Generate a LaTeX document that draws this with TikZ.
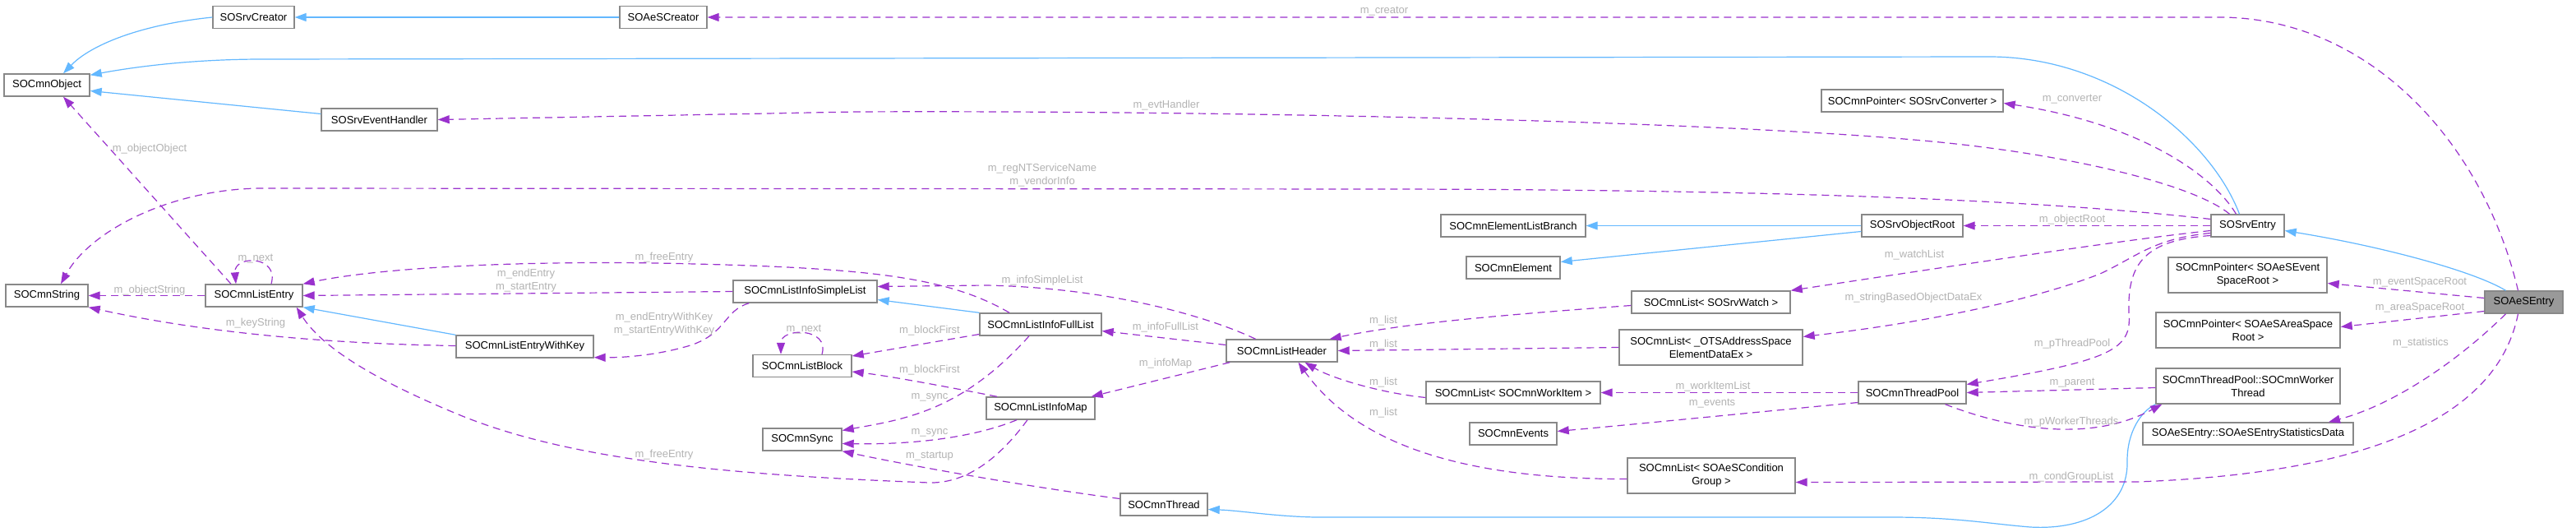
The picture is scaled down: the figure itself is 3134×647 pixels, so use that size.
\documentclass[tikz,border=0pt]{standalone}
\usepackage{fontspec}
\setmainfont{Liberation Sans}
\usetikzlibrary{arrows.meta}
\definecolor{inhblue}{HTML}{63B8FF}
\definecolor{memviolet}{HTML}{9A32CD}
\definecolor{boxline}{HTML}{888888}
\definecolor{rootfill}{HTML}{999999}
\definecolor{lblgray}{HTML}{B3B3B3}

\begin{document}
\begin{tikzpicture}[x=1pt,y=-1pt,font=\fontsize{13}{16}\selectfont,
cls/.style={draw=boxline,fill=white,line width=1.4pt,minimum width=#1,minimum height=27pt,inner sep=0pt,align=center},
tall/.style={minimum height=43pt},
inh/.style={-{Triangle[length=14pt,width=10pt]},line width=1.2pt,draw=inhblue},
mem/.style={-{Triangle[length=14pt,width=10pt]},line width=1.2pt,draw=memviolet,dash pattern=on 9pt off 6pt},
lbl/.style={text=lblgray,inner sep=0pt,align=center}]
\path[use as bounding box,fill=white] (0,0) rectangle (3134,647);
\node[cls=99pt] (srvcreator) at (308.5,21) {SOSrvCreator};
\node[cls=106pt] (aescreator) at (807,21) {SOAeSCreator};
\node[cls=104pt] (cmnobject) at (57,103.5) {SOCmnObject};
\node[cls=141pt] (evthandler) at (461.5,145.5) {SOSrvEventHandler};
\node[cls=221pt] (convptr) at (2326.5,122.5) {SOCmnPointer< SOSrvConverter >};
\node[cls=176pt] (listbranch) at (1841,274.5) {SOCmnElementListBranch};
\node[cls=114pt] (element) at (1841,325.5) {SOCmnElement};
\node[cls=123pt] (objroot) at (2326.5,274.5) {SOSrvObjectRoot};
\node[cls=89pt] (srventry) at (2734.5,274.5) {SOSrvEntry};
\node[cls=193pt,tall] (evspaceptr) at (2734.5,334.5) {SOCmnPointer< SOAeSEvent\\SpaceRoot >};
\node[cls=95pt,fill=rootfill] (aesentry) at (3070.5,367.5) {SOAeSEntry};
\node[cls=224pt,tall] (areaptr) at (2735,401.5) {SOCmnPointer< SOAeSAreaSpace\\Root >};
\node[cls=224pt,tall] (worker) at (2735,469.5) {SOCmnThreadPool::SOCmnWorker\\Thread};
\node[cls=256pt] (stats) at (2735,527.5) {SOAeSEntry::SOAeSEntryStatisticsData};
\node[cls=100pt] (cmnstring) at (57,359.5) {SOCmnString};
\node[cls=118pt] (listentry) at (309,359.5) {SOCmnListEntry};
\node[cls=167pt] (entrykey) at (638.5,421.5) {SOCmnListEntryWithKey};
\node[cls=175pt] (simplelist) at (979.5,354.5) {SOCmnListInfoSimpleList};
\node[cls=120pt] (listblock) at (976,445) {SOCmnListBlock};
\node[cls=96pt] (sync) at (976,534.5) {SOCmnSync};
\node[cls=148pt] (fulllist) at (1266,394.5) {SOCmnListInfoFullList};
\node[cls=132pt] (infomap) at (1266,496.5) {SOCmnListInfoMap};
\node[cls=106pt] (thread) at (1416,613.5) {SOCmnThread};
\node[cls=135pt] (listheader) at (1559.5,426.5) {SOCmnListHeader};
\node[cls=193pt] (watchlist) at (2081.5,367.5) {SOCmnList< SOSrvWatch >};
\node[cls=223pt,tall] (otslist) at (2081.5,422.5) {SOCmnList< \_OTSAddressSpace\\ElementDataEx >};
\node[cls=212pt] (worklist) at (1841,477.5) {SOCmnList< SOCmnWorkItem >};
\node[cls=106pt] (events) at (1841,527.5) {SOCmnEvents};
\node[cls=204pt,tall] (condlist) at (2082,578.5) {SOCmnList< SOAeSCondition\\Group >};
\node[cls=131pt] (threadpool) at (2326.5,477.5) {SOCmnThreadPool};

\draw[inh] (aescreator) -- (srvcreator);
\draw[inh] (srvcreator.west) .. controls (170,30) and (110,55) .. ([xshift=20pt]cmnobject.north);
\draw[inh] ([xshift=-10pt]srventry.north) .. controls (2690,170) and (2570,69) .. (2420,69) -- (320,72) .. controls (230,72) and (160,82) .. ([yshift=-2pt]cmnobject.north east);
\draw[inh] ([yshift=7pt]evthandler.west) -- ([yshift=-7pt]cmnobject.east);
\draw[inh] (objroot) -- (listbranch);
\draw[inh] ([yshift=-7pt]objroot.west) -- ([yshift=7pt]element.east);
\draw[inh] ([xshift=-22pt]aesentry.north) .. controls (3010,330) and (2900,300) .. ([yshift=-6pt]srventry.east);
\draw[inh] (entrykey.north west) -- (listentry.south east);
\draw[inh] (fulllist.north west) -- ([yshift=-10pt]simplelist.east);
\draw[inh] (worker.south west) .. controls (2605,500) and (2588,525) .. (2588,560) .. controls (2590,615) and (2540,645) .. (2470,641) .. controls (2420,637) and (2380,629) .. (2300,629) -- (1600,629) .. controls (1550,628) and (1510,621) .. ([yshift=-6pt]thread.east);

\draw[mem] ([xshift=-7pt]aesentry.north) .. controls (3020,170) and (2880,21) .. (2700,21) -- (aescreator.east) node[lbl] (creatorlbl) at (1684,14) {m\_creator};
\draw[mem] ([xshift=-22pt]srventry.north) .. controls (2670,225) and (2520,188) .. (2350,172) .. controls (2100,148) and (1500,134) .. (1040,136) -- (evthandler.east) node[lbl] (evthandlerlbl) at (1419,128) {m\_evtHandler};
\draw[mem] ([yshift=8pt]srventry.west) .. controls (2500,245) and (2200,231) .. (1700,230) -- (320,229) .. controls (210,229) and (110,280) .. ([xshift=17pt]cmnstring.north) node[lbl] (servicelbl) at (1268,213) {m\_regNTServiceName\\m\_vendorInfo};
\draw[mem] ([xshift=-14pt]srventry.north) .. controls (2690,210) and (2600,150) .. ([yshift=-3pt]convptr.east) node[lbl] (converterlbl) at (2521,121) {m\_converter};
\draw[mem] (srventry) -- (objroot) node[lbl] (objrootlbl) at (2521,267) {m\_objectRoot};
\draw[mem] ([yshift=-6pt]srventry.west) .. controls (2600,290) and (2450,312) .. (watchlist.north east) node[lbl] (watchlbl) at (2329,310) {m\_watchList};
\draw[mem] ([yshift=-9pt]srventry.west) .. controls (2620,290) and (2600,312) .. (2555,333) .. controls (2460,370) and (2320,395) .. ([yshift=13pt]otslist.east) node[lbl] (stringlbl) at (2328,362) {m\_stringBasedObjectDataEx};
\draw[mem] ([yshift=-12pt]srventry.west) .. controls (2610,292) and (2588,320) .. (2590,380) .. controls (2594,425) and (2570,438) .. ([yshift=10pt]threadpool.east) node[lbl] (poollbl) at (2521,418) {m\_pThreadPool};
\draw[mem] ([yshift=-2pt]worker.west) -- (threadpool.east) node[lbl] (parentlbl) at (2521,466) {m\_parent};
\draw[mem] ([xshift=40pt]threadpool.south) .. controls (2440,520) and (2540,540) .. ([xshift=8pt]worker.south west) node[lbl] (workerslbl) at (2520,513) {m\_pWorkerThreads};
\draw[mem] ([yshift=5pt]aesentry.west) -- ([yshift=-10pt]evspaceptr.east) node[lbl] (eventlbl) at (2944,343) {m\_eventSpaceRoot};
\draw[mem] ([yshift=-11pt]aesentry.west) -- ([yshift=4pt]areaptr.east) node[lbl] (arealbl) at (2944,374) {m\_areaSpaceRoot};
\draw[mem] ([xshift=-22pt]aesentry.south) .. controls (3000,430) and (2920,490) .. ([xshift=98pt]stats.north) node[lbl] (statslbl) at (2945,417) {m\_statistics};
\draw[mem] ([xshift=-7pt]aesentry.south) .. controls (3040,500) and (2900,575) .. (2600,586) -- ([yshift=-8pt]condlist.east) node[lbl] (condlbl) at (2520,580) {m\_condGroupList};
\draw[mem] (threadpool) -- (worklist) node[lbl] (worklbl) at (2084,470) {m\_workItemList};
\draw[mem] ([yshift=-12pt]threadpool.west) .. controls (2150,500) and (2000,515) .. ([yshift=3pt]events.east) node[lbl] (eventslbl) at (2083,491) {m\_events};

\draw[mem] ([yshift=-4pt]watchlist.west) .. controls (1800,385) and (1700,395) .. ([xshift=-10pt]listheader.north east) node[lbl] (list1lbl) at (1683,390) {m\_list};
\draw[mem] (otslist.west) -- (listheader.east) node[lbl] (list2lbl) at (1683,419) {m\_list};
\draw[mem] ([yshift=-6pt]worklist.west) .. controls (1680,478) and (1620,460) .. ([xshift=28pt]listheader.south) node[lbl] (list3lbl) at (1683,465) {m\_list};
\draw[mem] ([yshift=-4pt]condlist.west) .. controls (1780,583) and (1650,540) .. ([xshift=20pt]listheader.south) node[lbl] (list4lbl) at (1683,502) {m\_list};
\draw[mem] ([yshift=7pt]listheader.west) -- ([yshift=-8pt]fulllist.east) node[lbl] (fulllbl) at (1418,398) {m\_infoFullList};
\draw[mem] ([xshift=5pt]listheader.south west) -- ([xshift=-5pt]infomap.north east) node[lbl] (maplbl) at (1418,442) {m\_infoMap};
\draw[mem] ([xshift=-32pt]listheader.north) .. controls (1470,385) and (1350,350) .. (1200,347) -- ([yshift=6pt]simplelist.east) node[lbl] (simplelbl) at (1268,341) {m\_infoSimpleList};

\draw[mem] ([xshift=-38pt]fulllist.north) .. controls (1150,335) and (1050,325) .. (800,320) .. controls (600,317) and (450,328) .. (listentry.north east) node[lbl] (free1lbl) at (808,313) {m\_freeEntry};
\draw[mem] (simplelist.west) -- (listentry.east) node[lbl] (endlbl) at (640,341) {m\_endEntry\\m\_startEntry};
\draw[mem] ([xshift=20pt]simplelist.south west) .. controls (880,378) and (885,405) .. (840,420) .. controls (800,432) and (760,435) .. ([yshift=1pt]entrykey.south east) node[lbl] (keyentrylbl) at (808,394) {m\_endEntryWithKey\\m\_startEntryWithKey};
\draw[mem] ([yshift=1pt]entrykey.west) .. controls (400,418) and (250,405) .. (cmnstring.south east) node[lbl] (keystrlbl) at (311,393) {m\_keyString};
\draw[mem] (listentry) -- (cmnstring) node[lbl] (objstrlbl) at (182,353) {m\_objectString};
\draw[mem] ([xshift=-28pt]listentry.north) -- ([xshift=20pt]cmnobject.south) node[lbl] (objobjlbl) at (182,181) {m\_objectObject};
\draw[mem] ([xshift=21pt]listentry.north) .. controls (340,310) and (284,310) .. ([xshift=-22pt]listentry.north) node[lbl] (next1lbl) at (311,315) {m\_next};
\draw[mem] ([xshift=24pt]listblock.north) .. controls (1010,398) and (950,398) .. ([xshift=-26pt]listblock.north) node[lbl] (next2lbl) at (978,401) {m\_next};
\draw[mem] ([yshift=-12pt]fulllist.west) -- ([yshift=12pt]listblock.east) node[lbl] (block1lbl) at (1131,402) {m\_blockFirst};
\draw[mem] ([xshift=-53pt]infomap.north) .. controls (1150,470) and (1080,457) .. ([yshift=-7pt]listblock.east) node[lbl] (block2lbl) at (1131,450) {m\_blockFirst};
\draw[mem] ([xshift=-14pt]fulllist.south) .. controls (1170,500) and (1100,510) .. ([yshift=11pt]sync.east) node[lbl] (sync1lbl) at (1131,483) {m\_sync};
\draw[mem] ([xshift=-29pt]infomap.south) .. controls (1190,530) and (1120,541) .. ([yshift=-5pt]sync.east) node[lbl] (sync2lbl) at (1131,526) {m\_sync};
\draw[mem] ([yshift=7pt]thread.west) .. controls (1250,592) and (1100,565) .. (sync.south east) node[lbl] (startuplbl) at (1131,555) {m\_startup};
\draw[mem] ([xshift=-16pt]infomap.south) .. controls (1210,565) and (1170,588) .. (1130,587) .. controls (900,578) and (700,562) .. (560,505) .. controls (450,460) and (390,420) .. ([xshift=-8pt]listentry.south east) node[lbl] (free2lbl) at (808,553) {m\_freeEntry};
\end{tikzpicture}
\end{document}
